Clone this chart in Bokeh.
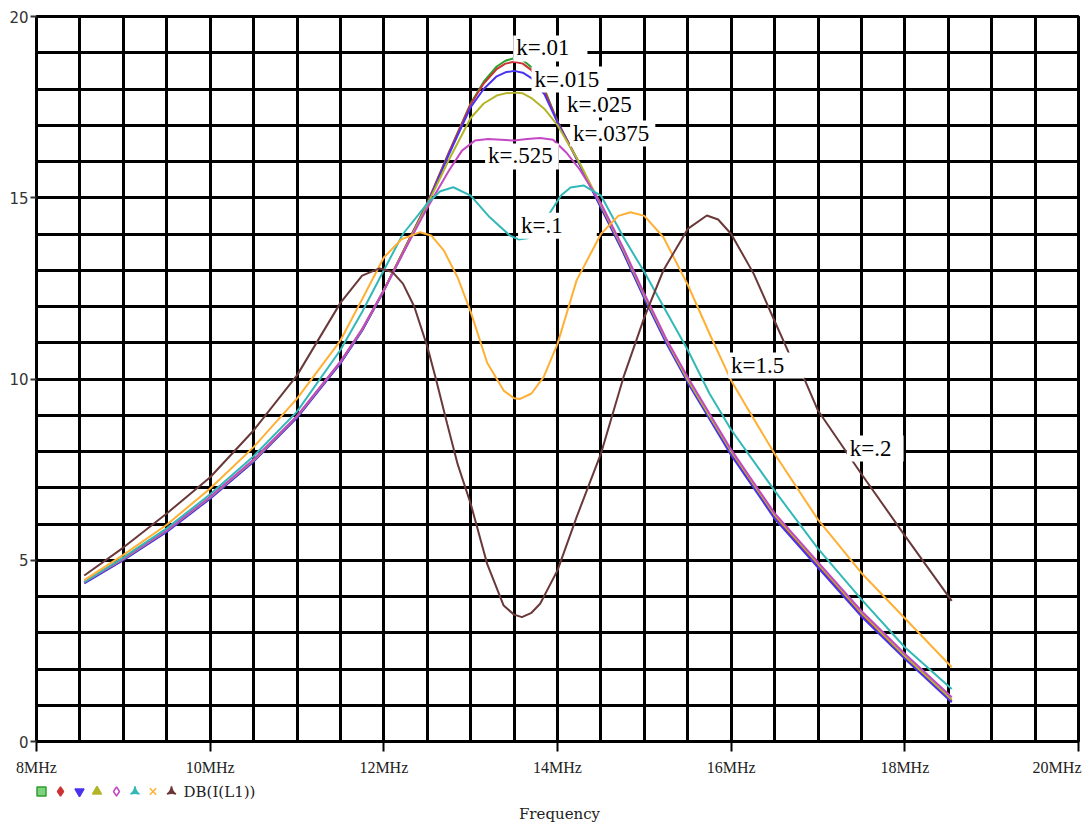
import numpy as np
from bokeh.plotting import figure
from bokeh.models import FixedTicker, Label, Range1d
from bokeh.layouts import column
from bokeh.embed import file_html
from bokeh.resources import INLINE
from bokeh.core.properties import value

# ---------------- data (frequency in MHz, value in dB) ----------------
freq_k01 = [8.55, 9.0, 9.5, 10.0, 10.5, 11.0, 11.5, 11.75, 12.0, 12.25, 12.5, 12.75, 13.0, 13.15, 13.3, 13.4,
            13.5, 13.6, 13.7, 13.85, 14.0, 14.25, 14.5, 14.75, 15.0, 15.25, 15.5, 15.75, 16.0, 16.5, 17.0,
            17.5, 18.0, 18.54]
db_k01 = [4.38, 5.02, 5.80, 6.72, 7.74, 8.95, 10.45, 11.35, 12.45, 13.65, 14.85, 16.25, 17.6, 18.2, 18.62, 18.78,
          18.85, 18.8, 18.6, 18.0, 17.1, 15.95, 14.75, 13.55, 12.25, 11.05, 9.95, 8.95, 7.95, 6.2, 4.85,
          3.5, 2.32, 1.12]

freq_k015 = freq_k01
db_k015 = [4.38, 5.02, 5.80, 6.72, 7.74, 8.95, 10.45, 11.35, 12.45, 13.65, 14.85, 16.25, 17.58, 18.15, 18.55, 18.7,
           18.75, 18.7, 18.52, 17.95, 17.1, 15.95, 14.75, 13.55, 12.25, 11.05, 9.95, 8.95, 7.95, 6.2, 4.85,
           3.5, 2.32, 1.12]

freq_k025 = freq_k01
db_k025 = [4.36, 5.0, 5.78, 6.70, 7.72, 8.93, 10.43, 11.33, 12.43, 13.62, 14.82, 16.2, 17.5, 18.0, 18.35, 18.46,
           18.5, 18.45, 18.3, 17.85, 17.08, 15.93, 14.72, 13.52, 12.22, 11.0, 9.9, 8.9, 7.9, 6.15, 4.8,
           3.45, 2.28, 1.08]

freq_k0375 = freq_k01
db_k0375 = [4.40, 5.04, 5.82, 6.74, 7.76, 8.97, 10.47, 11.37, 12.45, 13.62, 14.8, 16.05, 17.2, 17.6, 17.82, 17.88,
            17.9, 17.88, 17.75, 17.45, 17.0, 15.98, 14.8, 13.6, 12.3, 11.08, 9.97, 8.98, 8.0, 6.25, 4.9,
            3.55, 2.36, 1.16]

freq_k0525 = [8.55, 9.0, 9.5, 10.0, 10.5, 11.0, 11.5, 11.75, 12.0, 12.25, 12.5, 12.75, 12.9, 13.05, 13.2, 13.35,
              13.5, 13.65, 13.8, 13.95, 14.1, 14.25, 14.5, 14.75, 15.0, 15.25, 15.5, 15.75, 16.0, 16.5, 17.0,
              17.5, 18.0, 18.54]
db_k0525 = [4.40, 5.05, 5.83, 6.75, 7.78, 8.98, 10.48, 11.38, 12.45, 13.6, 14.72, 15.75, 16.3, 16.58, 16.62, 16.6,
            16.58, 16.62, 16.65, 16.6, 16.25, 15.8, 14.85, 13.65, 12.35, 11.12, 10.05, 9.05, 8.05, 6.3, 4.95,
            3.6, 2.42, 1.22]

freq_k1 = [8.55, 9.0, 9.5, 10.0, 10.5, 11.0, 11.5, 11.75, 12.0, 12.22, 12.5, 12.65, 12.8, 13.0, 13.22, 13.45,
           13.55, 13.65, 13.75, 13.85, 13.93, 14.04, 14.15, 14.3, 14.5, 14.76, 15.0, 15.22, 15.5, 15.75, 16.0,
           16.5, 17.0, 17.5, 18.0, 18.54]
db_k1 = [4.40, 5.08, 5.88, 6.82, 7.87, 9.1, 10.8, 11.85, 13.0, 14.0, 14.84, 15.18, 15.29, 15.06, 14.46, 13.96,
         13.85, 13.88, 14.05, 14.35, 14.65, 15.06, 15.28, 15.34, 15.06, 13.91, 12.95, 12.0, 10.8, 9.6, 8.6,
         6.92, 5.32, 3.92, 2.6, 1.45]

freq_k15 = [8.55, 9.0, 9.5, 10.0, 10.5, 11.0, 11.5, 11.75, 12.0, 12.2, 12.42, 12.55, 12.69, 12.85, 13.0, 13.19,
            13.38, 13.5, 13.57, 13.7, 13.84, 14.0, 14.22, 14.5, 14.7, 14.84, 15.0, 15.22, 15.5, 15.76, 16.0,
            16.18, 16.5, 17.0, 17.5, 18.0, 18.54]
db_k15 = [4.45, 5.15, 5.98, 6.98, 8.12, 9.46, 11.06, 12.2, 13.35, 13.85, 14.05, 13.95, 13.55, 12.8, 11.86, 10.45,
          9.68, 9.47, 9.45, 9.6, 10.05, 10.97, 12.72, 14.0, 14.5, 14.6, 14.5, 13.91, 12.6, 11.2, 9.96,
          9.22, 7.94, 6.12, 4.65, 3.4, 2.05]

freq_k2 = [8.55, 9.0, 9.5, 10.0, 10.5, 11.0, 11.5, 11.75, 11.95, 12.1, 12.22, 12.35, 12.5, 12.6, 12.73, 12.85,
           13.0, 13.19, 13.38, 13.5, 13.59, 13.7, 13.8, 14.0, 14.22, 14.5, 14.76, 15.0, 15.22, 15.5, 15.72,
           15.85, 16.0, 16.26, 16.5, 16.66, 16.85, 17.0, 17.5, 18.0, 18.54]
db_k2 = [4.58, 5.35, 6.29, 7.29, 8.58, 10.1, 12.1, 12.85, 13.05, 12.95, 12.63, 12.0, 10.9, 10.0, 8.76, 7.65,
         6.56, 4.9, 3.75, 3.5, 3.43, 3.55, 3.8, 4.72, 6.19, 7.94, 10.05, 11.7, 13.0, 14.14, 14.51,
         14.4, 14.0, 12.9, 11.6, 10.74, 9.96, 9.13, 7.38, 5.68, 3.88]

series = [
    ("k=.01", freq_k01, db_k01, "#2ca02c"),
    ("k=.015", freq_k015, db_k015, "#cc3333"),
    ("k=.025", freq_k025, db_k025, "#4a33f0"),
    ("k=.0375", freq_k0375, db_k0375, "#b4b428"),
    ("k=.525", freq_k0525, db_k0525, "#c448c4"),
    ("k=.1", freq_k1, db_k1, "#33b8b8"),
    ("k=1.5", freq_k15, db_k15, "#ffb034"),
    ("k=.2", freq_k2, db_k2, "#6a3838"),
]

x_ticks = [8, 10, 12, 14, 16, 18, 20]
x_tick_labels = ["8MHz", "10MHz", "12MHz", "14MHz", "16MHz", "18MHz", "20MHz"]
y_ticks = [0, 5, 10, 15, 20]

# trace labels: text, x (MHz), y (dB baseline)
label_text = ["k=.01", "k=.015", "k=.025", "k=.0375", "k=.525", "k=.1", "k=1.5", "k=.2"]
label_x = [13.49, 13.70, 14.075, 14.145, 13.166, 13.546, 15.963, 17.332]
label_y = [19.12, 18.26, 17.57, 16.77, 16.14, 14.23, 10.37, 8.08]
label_pad_right = [18, 8, 8, 6, 6, 34, 20, 12]

# ---------------- layout constants (pixels) ----------------
W = 1084
LEFT, RIGHT, TOP, BOTTOM = 36, 6, 16, 11
H_MAIN = 752
H_STRIP = 73
PX_PER_MHZ = (W - LEFT - RIGHT) / 12.0


def px_to_mhz(px):
    return 8 + (px - LEFT) / PX_PER_MHZ


# ---------------- main figure ----------------
p = figure(width=W, height=H_MAIN, x_range=Range1d(8, 20), y_range=Range1d(0, 20),
           output_backend="svg", toolbar_location=None,
           min_border_left=LEFT, min_border_right=RIGHT, min_border_top=TOP, min_border_bottom=BOTTOM)
p.frame_align = False
p.background_fill_color = "white"
p.border_fill_color = "white"
p.outline_line_color = "black"
p.outline_line_width = 3

p.xgrid.ticker = FixedTicker(ticks=list(np.arange(8, 20.01, 0.5)))
p.ygrid.ticker = FixedTicker(ticks=list(np.arange(0, 20.01, 1)))
for g in (p.xgrid, p.ygrid):
    g.grid_line_color = "black"
    g.grid_line_width = 3
    g.grid_line_alpha = 1.0

p.xaxis.ticker = FixedTicker(ticks=x_ticks)
p.xaxis.major_label_overrides = {t: "" for t in x_ticks}
p.xaxis.major_label_text_font_size = "0px"
p.xaxis.major_label_standoff = 0
p.xaxis.major_tick_out = 10
p.xaxis.major_tick_in = 0
p.xaxis.minor_tick_line_color = None
p.xaxis.major_tick_line_width = 2
p.xaxis.major_tick_line_color = "black"
p.xaxis.axis_line_color = "black"
p.xaxis.axis_line_width = 3

p.yaxis.ticker = FixedTicker(ticks=y_ticks)
p.yaxis.major_tick_out = 6
p.yaxis.major_tick_in = 0
p.yaxis.minor_tick_line_color = None
p.yaxis.major_tick_line_width = 2
p.yaxis.major_tick_line_color = "#333333"
p.yaxis.axis_line_color = "black"
p.yaxis.axis_line_width = 3
p.yaxis.major_label_standoff = 2
p.yaxis.major_label_text_font = "DejaVu Sans"
p.yaxis.major_label_text_font_size = "15px"
p.yaxis.major_label_text_color = "#333333"

for name, fx, fy, col in series:
    p.line(fx, fy, line_color=col, line_width=2)

for t, lx, ly, pr in zip(label_text, label_x, label_y, label_pad_right):
    p.add_layout(Label(x=lx, y=ly, text=t, text_align="left", text_baseline="alphabetic",
                       text_font="Liberation Serif", text_font_size="23px", text_color="black",
                       background_fill_color="white", background_fill_alpha=1.0,
                       padding={"top": 0, "right": pr, "bottom": 1, "left": 3}))

# ---------------- tick labels / legend / axis title strip ----------------
legend_marker = ["square", "diamond", "inverted_triangle", "triangle", "diamond", "triangle_pin", "x", "triangle_pin"]
legend_fill = ["#7fd07f", "#cc3333", "#4a33f0", "#b4b428", "white", "#33b8b8", "#ffb034", "#6a3838"]
legend_px = [41, 60, 79, 96.5, 116, 134.5, 152.5, 171]

p2 = figure(width=W, height=H_STRIP, x_range=Range1d(px_to_mhz(0), px_to_mhz(W)),
            y_range=Range1d(H_STRIP, 0),
            output_backend="svg", toolbar_location=None,
            min_border_left=0, min_border_right=0, min_border_top=0, min_border_bottom=0)
p2.frame_align = False
p2.axis.visible = False
p2.grid.visible = False
p2.outline_line_color = None
p2.background_fill_color = "white"
p2.border_fill_color = "white"

# x tick labels (last one right-aligned at the frame edge, as in the original)
p2.text(x_ticks[:-1], [15] * (len(x_ticks) - 1), text=x_tick_labels[:-1],
        text_font=value("Liberation Serif"), text_font_size="16px", text_color="#222222",
        text_align="center", text_baseline="alphabetic")
p2.text([x_ticks[-1]], [15], text=[x_tick_labels[-1]], x_offset=3,
        text_font=value("Liberation Serif"), text_font_size="16px", text_color="#222222",
        text_align="right", text_baseline="alphabetic")

for (name, fx, fy, col), mk, fc, mx in zip(series, legend_marker, legend_fill, legend_px):
    p2.scatter([px_to_mhz(mx)], [39], marker=mk, size=9, line_color=col, fill_color=fc, line_width=1.5)
p2.text([px_to_mhz(183)], [39], text=["DB(I(L1))"], text_font=value("DejaVu Serif"), text_font_size="15px",
        text_baseline="middle", text_align="left", text_color="#222222")
p2.text([px_to_mhz(559)], [61], text=["Frequency"], text_font=value("DejaVu Serif"), text_font_size="15px",
        text_baseline="middle", text_align="center", text_color="#222222")

layout = column(p, p2, spacing=0)
open("out.html", "w").write(file_html(layout, INLINE))
